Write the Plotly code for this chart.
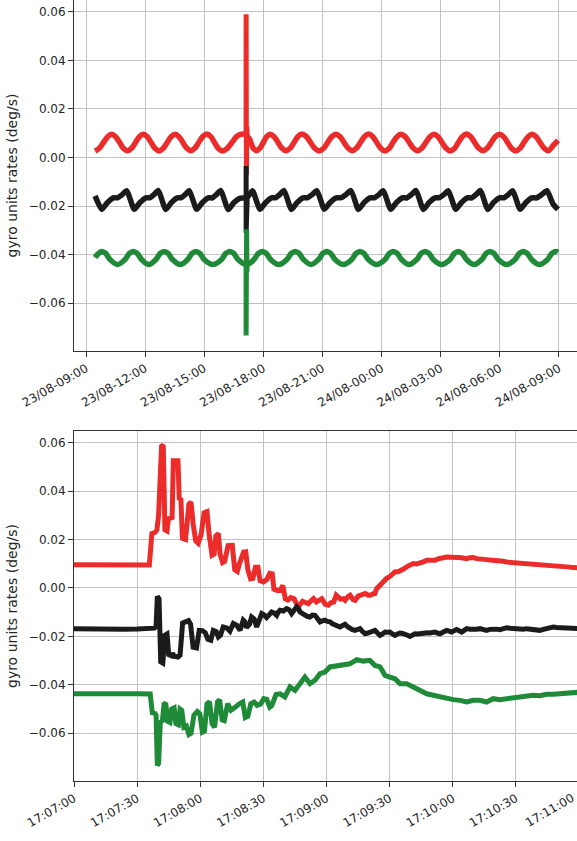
import pandas as pd
import plotly.graph_objects as go

DAY_START = pd.Timestamp("2023-08-23 09:00:00")
EVENT_START = pd.Timestamp("2023-08-23 17:07:00")

# ---------------- top panel: one day, (hours after 23/08 09:00, deg/s) ----------------
red_day = [
    (0.46, 0.0027), (0.66, 0.0037), (0.88, 0.0061), (1.10, 0.0086), (1.30, 0.0096),
    (1.50, 0.0086), (1.71, 0.0062), (1.91, 0.0037), (2.11, 0.0028), (2.31, 0.0038),
    (2.51, 0.0062), (2.71, 0.0086), (2.91, 0.0096), (3.11, 0.0086), (3.31, 0.0061),
    (3.51, 0.0037), (3.71, 0.0027), (3.91, 0.0037), (4.12, 0.0062), (4.32, 0.0086),
    (4.52, 0.0096), (4.72, 0.0086), (4.92, 0.0062), (5.12, 0.0038), (5.32, 0.0028),
    (5.52, 0.0038), (5.72, 0.0062), (5.93, 0.0087), (6.13, 0.0097), (6.33, 0.0087),
    (6.52, 0.0062), (6.72, 0.0037), (6.92, 0.0027), (7.16, 0.0037), (7.40, 0.0061),
    (7.64, 0.0086), (7.88, 0.0096), (8.10, 0.0094), (8.30, 0.0076), (8.48, 0.0040),
    (8.65, 0.0028), (8.82, 0.0038), (9.00, 0.0062), (9.17, 0.0086), (9.34, 0.0096),
    (9.55, 0.0086), (9.75, 0.0062), (9.95, 0.0038), (10.15, 0.0028), (10.36, 0.0038),
    (10.56, 0.0062), (10.76, 0.0087), (10.96, 0.0097), (11.18, 0.0087), (11.40, 0.0062),
    (11.62, 0.0037), (11.83, 0.0027), (12.05, 0.0037), (12.26, 0.0061), (12.48, 0.0086),
    (12.69, 0.0096), (12.90, 0.0086), (13.10, 0.0062), (13.31, 0.0038), (13.52, 0.0028),
    (13.72, 0.0038), (13.93, 0.0062), (14.14, 0.0087), (14.34, 0.0097), (14.55, 0.0087),
    (14.76, 0.0062), (14.97, 0.0037), (15.17, 0.0027), (15.38, 0.0037), (15.58, 0.0062),
    (15.79, 0.0086), (15.99, 0.0096), (16.20, 0.0086), (16.41, 0.0062), (16.62, 0.0038),
    (16.83, 0.0028), (17.04, 0.0038), (17.25, 0.0062), (17.46, 0.0086), (17.66, 0.0096),
    (17.87, 0.0086), (18.08, 0.0061), (18.29, 0.0037), (18.49, 0.0027), (18.70, 0.0037),
    (18.90, 0.0062), (19.11, 0.0087), (19.31, 0.0097), (19.52, 0.0087), (19.73, 0.0062),
    (19.94, 0.0038), (20.15, 0.0028), (20.36, 0.0038), (20.57, 0.0062), (20.78, 0.0086),
    (20.99, 0.0096), (21.20, 0.0086), (21.40, 0.0062), (21.61, 0.0037), (21.81, 0.0027),
    (22.02, 0.0037), (22.23, 0.0062), (22.44, 0.0086), (22.64, 0.0096), (22.85, 0.0086),
    (23.05, 0.0062), (23.26, 0.0038), (23.47, 0.0028), (23.72, 0.0050), (23.96, 0.0071),
]

black_day = [
    (0.46, -0.0158), (0.80, -0.0213), (1.08, -0.0186), (1.38, -0.0166), (1.60, -0.0166),
    (1.85, -0.0152), (2.07, -0.0137), (2.45, -0.0213), (2.73, -0.0186), (3.03, -0.0166),
    (3.24, -0.0166), (3.46, -0.0152), (3.67, -0.0136), (4.05, -0.0214), (4.33, -0.0186),
    (4.63, -0.0166), (4.84, -0.0165), (5.04, -0.0152), (5.24, -0.0137), (5.62, -0.0213),
    (5.90, -0.0186), (6.20, -0.0166), (6.42, -0.0166), (6.63, -0.0152), (6.84, -0.0136),
    (7.22, -0.0214), (7.50, -0.0186), (7.80, -0.0168), (8.00, -0.0167), (8.10, -0.0168),
    (8.25, -0.0158), (8.45, -0.0137), (8.83, -0.0213), (9.11, -0.0186), (9.41, -0.0166),
    (9.62, -0.0166), (9.84, -0.0152), (10.05, -0.0136), (10.43, -0.0214), (10.71, -0.0186),
    (11.01, -0.0166), (11.24, -0.0166), (11.49, -0.0152), (11.72, -0.0137), (12.10, -0.0213),
    (12.38, -0.0186), (12.70, -0.0166), (12.95, -0.0165), (13.21, -0.0152), (13.45, -0.0136),
    (13.83, -0.0214), (14.11, -0.0186), (14.41, -0.0166), (14.64, -0.0166), (14.88, -0.0152),
    (15.09, -0.0137), (15.47, -0.0213), (15.75, -0.0186), (16.05, -0.0166), (16.29, -0.0166),
    (16.53, -0.0152), (16.75, -0.0136), (17.13, -0.0214), (17.41, -0.0186), (17.71, -0.0166),
    (17.94, -0.0165), (18.18, -0.0152), (18.39, -0.0137), (18.77, -0.0213), (19.05, -0.0186),
    (19.35, -0.0166), (19.58, -0.0166), (19.81, -0.0152), (20.02, -0.0136), (20.40, -0.0214),
    (20.68, -0.0186), (20.98, -0.0166), (21.21, -0.0166), (21.45, -0.0152), (21.66, -0.0137),
    (22.04, -0.0213), (22.32, -0.0186), (22.62, -0.0166), (22.88, -0.0166), (23.14, -0.0152),
    (23.40, -0.0137), (23.70, -0.0190), (23.96, -0.0214),
]

green_day = [
    (0.46, -0.0412), (0.60, -0.0398), (0.80, -0.0387), (1.00, -0.0395), (1.22, -0.0420),
    (1.60, -0.0441), (1.98, -0.0420), (2.20, -0.0395), (2.40, -0.0387), (2.60, -0.0395),
    (2.82, -0.0420), (3.18, -0.0441), (3.55, -0.0420), (3.77, -0.0395), (3.97, -0.0387),
    (4.17, -0.0395), (4.39, -0.0420), (4.78, -0.0441), (5.16, -0.0420), (5.38, -0.0395),
    (5.58, -0.0387), (5.78, -0.0395), (6.00, -0.0420), (6.44, -0.0441), (6.88, -0.0420),
    (7.10, -0.0395), (7.30, -0.0387), (7.50, -0.0395), (7.72, -0.0420), (8.10, -0.0440),
    (8.30, -0.0436), (8.53, -0.0420), (8.75, -0.0395), (8.95, -0.0387), (9.15, -0.0395),
    (9.37, -0.0420), (9.78, -0.0441), (10.20, -0.0420), (10.42, -0.0395), (10.62, -0.0387),
    (10.82, -0.0395), (11.04, -0.0420), (11.42, -0.0441), (11.80, -0.0420), (12.02, -0.0395),
    (12.22, -0.0387), (12.42, -0.0395), (12.64, -0.0420), (13.06, -0.0441), (13.49, -0.0420),
    (13.71, -0.0395), (13.91, -0.0387), (14.11, -0.0395), (14.33, -0.0420), (14.75, -0.0441),
    (15.18, -0.0420), (15.40, -0.0395), (15.60, -0.0387), (15.80, -0.0395), (16.02, -0.0420),
    (16.40, -0.0441), (16.79, -0.0420), (17.01, -0.0395), (17.21, -0.0387), (17.41, -0.0395),
    (17.63, -0.0420), (18.05, -0.0441), (18.48, -0.0420), (18.70, -0.0395), (18.90, -0.0387),
    (19.10, -0.0395), (19.32, -0.0420), (19.70, -0.0441), (20.09, -0.0420), (20.31, -0.0395),
    (20.51, -0.0387), (20.71, -0.0395), (20.93, -0.0420), (21.35, -0.0441), (21.78, -0.0420),
    (22.00, -0.0395), (22.20, -0.0387), (22.40, -0.0395), (22.62, -0.0420), (23.02, -0.0441),
    (23.43, -0.0420), (23.65, -0.0395), (23.85, -0.0387), (23.96, -0.0390),
]

# ---------------- bottom panel: event, (seconds after 17:07:00, deg/s) ----------------
red_event = [
    (0.0, 0.0096), (8.0, 0.0095), (16.0, 0.0095), (24.0, 0.0094), (30.0, 0.0095),
    (35.8, 0.0095), (37.0, 0.0225), (38.6, 0.0230), (39.4, 0.0240), (40.2, 0.0300),
    (41.6, 0.0585), (42.4, 0.0590), (43.2, 0.0240), (44.2, 0.0235), (44.8, 0.0285),
    (46.6, 0.0290), (47.2, 0.0525), (49.4, 0.0525), (50.0, 0.0370), (50.8, 0.0365),
    (51.5, 0.0205), (53.0, 0.0200), (54.6, 0.0345), (55.6, 0.0355), (56.6, 0.0265),
    (57.8, 0.0195), (59.0, 0.0185), (60.4, 0.0220), (61.8, 0.0310), (63.2, 0.0315),
    (64.2, 0.0220), (65.6, 0.0135), (66.6, 0.0140), (67.4, 0.0215), (68.6, 0.0225),
    (69.4, 0.0140), (70.6, 0.0105), (71.6, 0.0110), (73.2, 0.0175), (75.2, 0.0176),
    (76.4, 0.0075), (77.6, 0.0068), (78.6, 0.0100), (80.6, 0.0148), (81.6, 0.0149),
    (82.6, 0.0075), (83.9, 0.0038), (85.0, 0.0040), (86.2, 0.0085), (87.4, 0.0085),
    (88.4, 0.0030), (90.0, 0.0025), (91.6, 0.0035), (93.0, 0.0060), (94.2, 0.0058),
    (95.0, -0.0005), (96.6, -0.0010), (97.9, -0.0010), (99.2, 0.0010), (100.4, -0.0045),
    (101.6, -0.0050), (103.0, -0.0040), (104.6, -0.0045), (106.0, -0.0070), (107.2, -0.0071),
    (108.6, -0.0055), (110.0, -0.0060), (111.3, -0.0065), (112.8, -0.0052), (113.8, -0.0044),
    (115.2, -0.0058), (116.6, -0.0050), (117.7, -0.0044), (119.4, -0.0068), (120.8, -0.0071),
    (122.2, -0.0060), (123.4, -0.0058), (124.6, -0.0030), (125.6, -0.0038), (126.6, -0.0046),
    (128.0, -0.0044), (128.8, -0.0051), (130.2, -0.0036), (131.2, -0.0030), (132.6, -0.0048),
    (133.6, -0.0051), (135.0, -0.0034), (136.0, -0.0030), (137.4, -0.0025), (138.4, -0.0023),
    (139.8, -0.0030), (140.8, -0.0030), (142.2, -0.0024), (143.0, -0.0023), (143.8, -0.0003),
    (145.4, 0.0012), (147.0, 0.0032), (148.6, 0.0040), (150.2, 0.0048), (151.4, 0.0060),
    (152.5, 0.0066), (154.2, 0.0068), (155.7, 0.0073), (157.0, 0.0080), (158.0, 0.0087),
    (159.6, 0.0092), (161.2, 0.0101), (162.8, 0.0099), (164.4, 0.0101), (166.0, 0.0108),
    (167.6, 0.0114), (169.5, 0.0112), (171.5, 0.0114), (173.0, 0.0120), (174.6, 0.0121),
    (176.0, 0.0126), (177.1, 0.0128), (178.6, 0.0126), (180.2, 0.0128), (182.0, 0.0126),
    (183.4, 0.0126), (185.0, 0.0122), (186.6, 0.0121), (188.2, 0.0125), (189.7, 0.0126),
    (191.3, 0.0121), (192.9, 0.0121), (194.5, 0.0118), (196.0, 0.0117), (197.6, 0.0115),
    (199.2, 0.0114), (200.8, 0.0116), (202.4, 0.0114), (204.0, 0.0110), (205.6, 0.0107),
    (207.2, 0.0106), (208.7, 0.0103), (210.3, 0.0104), (211.9, 0.0101), (213.5, 0.0099),
    (215.0, 0.0098), (216.6, 0.0100), (218.2, 0.0101), (219.8, 0.0099), (221.4, 0.0098),
    (223.0, 0.0096), (224.5, 0.0094), (226.1, 0.0095), (227.7, 0.0094), (229.3, 0.0092),
    (230.9, 0.0090), (232.5, 0.0089), (234.0, 0.0087), (235.6, 0.0086), (237.2, 0.0084),
    (238.8, 0.0084), (240.5, 0.0083),
]

black_event = [
    (0.0, -0.0168), (8.0, -0.0170), (16.0, -0.0169), (24.0, -0.0170), (30.0, -0.0169),
    (36.5, -0.0168), (38.2, -0.0166), (39.0, -0.0160), (39.6, -0.0035), (40.4, -0.0045),
    (41.2, -0.0305), (42.2, -0.0310), (43.2, -0.0195), (44.2, -0.0190), (45.0, -0.0275),
    (46.2, -0.0280), (46.8, -0.0270), (47.6, -0.0282), (49.4, -0.0285), (50.4, -0.0278),
    (51.6, -0.0145), (53.0, -0.0140), (54.4, -0.0135), (55.4, -0.0150), (56.6, -0.0245),
    (58.2, -0.0248), (59.5, -0.0175), (61.0, -0.0176), (62.4, -0.0185), (63.6, -0.0212),
    (65.0, -0.0216), (66.2, -0.0175), (67.6, -0.0180), (68.6, -0.0202), (69.6, -0.0195),
    (70.9, -0.0161), (72.6, -0.0165), (74.1, -0.0178), (75.7, -0.0147), (77.4, -0.0155),
    (78.9, -0.0175), (80.4, -0.0133), (81.2, -0.0140), (82.0, -0.0163), (83.4, -0.0150),
    (84.4, -0.0120), (85.6, -0.0128), (86.8, -0.0161), (88.0, -0.0135), (89.2, -0.0106),
    (90.4, -0.0112), (91.5, -0.0122), (92.8, -0.0110), (93.9, -0.0099), (95.2, -0.0104),
    (96.3, -0.0113), (97.0, -0.0100), (97.9, -0.0092), (99.5, -0.0095), (101.0, -0.0085),
    (102.2, -0.0090), (103.4, -0.0106), (104.6, -0.0092), (105.8, -0.0078), (106.6, -0.0085),
    (107.4, -0.0099), (108.6, -0.0106), (109.7, -0.0113), (111.0, -0.0118), (112.1, -0.0120),
    (113.3, -0.0112), (114.5, -0.0113), (115.7, -0.0128), (116.9, -0.0140), (118.0, -0.0136),
    (119.2, -0.0133), (120.4, -0.0138), (121.6, -0.0140), (122.8, -0.0148), (124.0, -0.0154),
    (125.2, -0.0158), (126.4, -0.0161), (127.6, -0.0155), (128.8, -0.0150), (130.0, -0.0160),
    (131.1, -0.0168), (132.3, -0.0172), (133.5, -0.0175), (134.7, -0.0172), (135.9, -0.0168),
    (137.1, -0.0180), (138.3, -0.0189), (139.5, -0.0186), (140.6, -0.0182), (141.8, -0.0178),
    (143.0, -0.0175), (144.2, -0.0186), (145.4, -0.0196), (146.6, -0.0190), (147.8, -0.0182),
    (149.0, -0.0183), (150.1, -0.0182), (151.3, -0.0190), (152.5, -0.0196), (153.7, -0.0190),
    (154.9, -0.0186), (156.1, -0.0188), (157.3, -0.0189), (158.5, -0.0195), (159.6, -0.0200),
    (160.8, -0.0195), (162.0, -0.0189), (163.2, -0.0190), (164.4, -0.0189), (165.6, -0.0185),
    (166.8, -0.0182), (168.0, -0.0185), (169.1, -0.0186), (170.3, -0.0184), (171.5, -0.0182),
    (172.7, -0.0186), (173.9, -0.0189), (175.5, -0.0182), (177.1, -0.0175), (178.3, -0.0178),
    (179.4, -0.0182), (180.6, -0.0177), (181.8, -0.0172), (183.0, -0.0177), (184.2, -0.0182),
    (185.4, -0.0175), (186.6, -0.0168), (188.1, -0.0170), (189.7, -0.0172), (191.3, -0.0170),
    (192.9, -0.0168), (194.5, -0.0172), (196.0, -0.0175), (197.6, -0.0171), (199.2, -0.0168),
    (200.8, -0.0170), (202.4, -0.0172), (204.0, -0.0168), (205.6, -0.0164), (207.2, -0.0166),
    (208.7, -0.0168), (210.3, -0.0170), (211.9, -0.0172), (213.5, -0.0170), (215.0, -0.0168),
    (216.6, -0.0170), (218.2, -0.0172), (219.8, -0.0174), (221.4, -0.0175), (223.0, -0.0171),
    (224.5, -0.0168), (226.1, -0.0164), (227.7, -0.0161), (229.3, -0.0163), (230.9, -0.0164),
    (232.5, -0.0166), (234.0, -0.0168), (235.6, -0.0168), (237.2, -0.0168), (238.8, -0.0167),
    (240.5, -0.0168),
]

green_event = [
    (0.0, -0.0437), (8.0, -0.0436), (16.0, -0.0437), (24.0, -0.0438), (30.0, -0.0437),
    (36.2, -0.0438), (37.2, -0.0515), (38.4, -0.0518), (39.0, -0.0525), (39.6, -0.0733),
    (40.2, -0.0725), (41.0, -0.0555), (42.0, -0.0548), (42.8, -0.0480), (43.6, -0.0475),
    (44.4, -0.0550), (45.6, -0.0555), (46.4, -0.0500), (47.6, -0.0495), (48.4, -0.0560),
    (49.6, -0.0565), (50.4, -0.0500), (51.2, -0.0505), (52.2, -0.0575), (53.4, -0.0570),
    (54.6, -0.0605), (55.6, -0.0600), (57.0, -0.0525), (58.6, -0.0510), (59.8, -0.0520),
    (61.0, -0.0595), (62.0, -0.0590), (63.2, -0.0478), (64.4, -0.0470), (65.6, -0.0560),
    (66.8, -0.0575), (68.2, -0.0470), (69.2, -0.0462), (70.4, -0.0545), (71.4, -0.0548),
    (73.0, -0.0478), (74.6, -0.0505), (75.6, -0.0500), (77.0, -0.0490), (78.6, -0.0478),
    (80.2, -0.0471), (81.4, -0.0535), (82.6, -0.0530), (84.0, -0.0478), (85.6, -0.0471),
    (87.0, -0.0485), (88.6, -0.0480), (90.2, -0.0457), (91.6, -0.0460), (93.0, -0.0492),
    (94.0, -0.0485), (96.0, -0.0440), (97.9, -0.0437), (100.2, -0.0450), (102.6, -0.0409),
    (105.0, -0.0423), (107.4, -0.0395), (109.7, -0.0368), (112.1, -0.0395), (114.5, -0.0381),
    (116.9, -0.0354), (119.2, -0.0347), (121.6, -0.0326), (124.8, -0.0323), (128.0, -0.0320),
    (131.1, -0.0313), (134.3, -0.0296), (137.5, -0.0302), (140.6, -0.0299), (143.0, -0.0320),
    (145.4, -0.0326), (147.8, -0.0361), (150.1, -0.0368), (152.5, -0.0375), (154.9, -0.0395),
    (158.0, -0.0395), (161.2, -0.0409), (164.4, -0.0423), (167.6, -0.0437), (170.7, -0.0443),
    (173.9, -0.0450), (177.1, -0.0457), (180.2, -0.0461), (183.4, -0.0464), (186.6, -0.0471),
    (189.7, -0.0464), (192.9, -0.0464), (196.0, -0.0471), (199.2, -0.0457), (202.4, -0.0461),
    (205.6, -0.0457), (208.7, -0.0453), (211.9, -0.0450), (215.0, -0.0448), (218.2, -0.0443),
    (221.4, -0.0445), (224.5, -0.0439), (227.7, -0.0439), (230.9, -0.0437), (234.0, -0.0434),
    (237.2, -0.0430), (240.5, -0.0430),
]

Y_TITLE = "gyro units rates (deg/s)"
LAST_TICK_LABEL = "17:11:00"   # tick just past the right edge, label partly visible
RED, BLACK, GREEN = "#ec2b2b", "#1b1b1b", "#1f8a38"


def day_series(pairs):
    h, v = zip(*pairs)
    return [DAY_START + pd.Timedelta(hours=x) for x in h], list(v)


def event_series(pairs):
    s, v = zip(*pairs)
    return [EVENT_START + pd.Timedelta(seconds=x) for x in s], list(v)


fig = go.Figure()

for day, event, color, smooth in [
    (red_day, red_event, RED, 1.0),
    (black_day, black_event, BLACK, 0.6),
    (green_day, green_event, GREEN, 1.0),
]:
    x, y = day_series(day)
    fig.add_trace(go.Scatter(x=x, y=y, mode="lines", xaxis="x", yaxis="y",
                             line=dict(color=color, width=5.5, shape="spline", smoothing=smooth)))
    x, y = event_series(event)
    fig.add_trace(go.Scatter(x=x, y=y, mode="lines", xaxis="x", yaxis="y",
                             line=dict(color=color, width=5)))

for event, color in [(red_event, RED), (black_event, BLACK), (green_event, GREEN)]:
    x, y = event_series(event)
    fig.add_trace(go.Scatter(x=x, y=y, mode="lines", xaxis="x2", yaxis="y2",
                             line=dict(color=color, width=5)))

axis_style = dict(
    showgrid=True, gridcolor="#c2c2c2", gridwidth=1,
    showline=True, linecolor="#333333", linewidth=1,
    ticks="outside", ticklen=5, tickwidth=1, tickcolor="#333333",
    zeroline=False, tickfont=dict(family="DejaVu Sans", size=12, color="#262626"),
)

fig.update_layout(
    width=577, height=841,
    margin=dict(l=74, r=0, t=0, b=60),
    paper_bgcolor="white", plot_bgcolor="white",
    showlegend=False,
    font=dict(family="DejaVu Sans", size=12, color="#262626"),
    xaxis=dict(
        axis_style, anchor="y", domain=[0, 1], type="date",
        range=[DAY_START - pd.Timedelta(hours=0.609), DAY_START + pd.Timedelta(hours=24.924)],
        tick0="2023-08-23 00:00:00", dtick=3 * 3600 * 1000,
        tickformat="%d/%m-%H:%M", tickangle=-30, mirror=True,
    ),
    yaxis=dict(
        axis_style, anchor="x", domain=[0.5506, 1],
        range=[-0.0797, 0.0649], tick0=0, dtick=0.02, tickformat=".2f",
        title=dict(text=Y_TITLE, font=dict(size=14), standoff=7),
    ),
    xaxis2=dict(
        axis_style, anchor="y2", domain=[0, 1], type="date",
        range=[EVENT_START, EVENT_START + pd.Timedelta(seconds=239.0)],
        tick0="2023-08-23 17:07:00", dtick=30 * 1000,
        tickformat="%H:%M:%S", tickangle=-30, mirror=True,
    ),
    yaxis2=dict(
        axis_style, anchor="x2", domain=[0, 0.44814],
        range=[-0.0797, 0.0648], tick0=0, dtick=0.02, tickformat=".2f",
        title=dict(text=Y_TITLE, font=dict(size=14), standoff=7),
    ),
    annotations=[dict(
        text=LAST_TICK_LABEL, xref="paper", yref="paper", x=1, y=0,
        xanchor="right", yanchor="top", xshift=3, yshift=-7,
        textangle=-30, showarrow=False,
        font=dict(family="DejaVu Sans", size=12, color="#262626"),
    )],
)

fig.write_html("out.html")
